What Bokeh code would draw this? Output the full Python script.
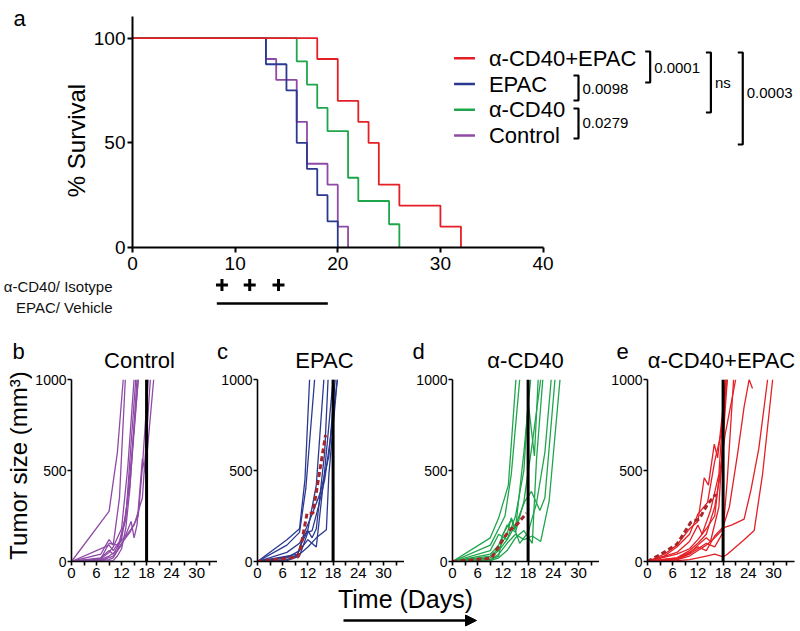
from bokeh.plotting import figure
from bokeh.layouts import column, row
from bokeh.models import Range1d, FixedTicker, Span, Arrow, NormalHead
from bokeh.core.properties import value
from bokeh.embed import file_html
from bokeh.resources import INLINE

FONT = "Liberation Sans"

# ---------------- data ----------------
group_names = ["α-CD40+EPAC", "EPAC", "α-CD40", "Control"]
group_colors = ["#e41f26", "#2b3990", "#1fa54b", "#8e4aa6"]
mean_color = "#a8262b"

surv_days_combo = [0, 18, 20, 22, 23, 24, 26, 30, 32]
surv_pct_combo = [100, 90, 70, 60, 50, 30, 20, 10, 0]
surv_days_epac = [0, 13, 15, 16, 17, 18, 19, 20]
surv_pct_epac = [100, 87.5, 75, 50, 37.5, 25, 12.5, 0]
surv_days_cd40 = [0, 16, 17, 18, 19, 21, 22, 25, 26]
surv_pct_cd40 = [100, 88.9, 77.8, 66.7, 55.6, 33.3, 22.2, 11.1, 0]
surv_days_ctrl = [0, 13, 14, 16, 17, 19, 20, 21]
surv_pct_ctrl = [100, 90, 80, 60, 40, 30, 10, 0]

p_value_labels = ["0.0001", "0.0098", "0.0279", "ns", "0.0003"]
surv_ticks_x = [0, 10, 20, 30, 40]
surv_ticks_y = [0, 50, 100]

schedule_labels = ["α-CD40/ Isotype", "EPAC/ Vehicle"]
dose_days = [8.8, 11.5, 14.3]
epac_days = [8.3, 19.1]

panel_letters = ["a", "b", "c", "d", "e"]
panel_titles = ["Control", "EPAC", "α-CD40", "α-CD40+EPAC"]
tumor_ticks_x = [0, 3, 6, 9, 12, 15, 18, 21, 24, 27, 30, 33]
tumor_labeled_x = [0, 6, 12, 18, 24, 30]
tumor_ticks_y = [0, 500, 1000]
cutoff_day = 18

ctrl_days = [
    [0, 9, 11, 12.4],
    [0, 7, 9, 10, 11.5, 12.9],
    [0, 7, 9, 10, 12, 13.5, 15],
    [0, 7, 9, 11, 13, 14, 15.4],
    [0, 7, 9, 10, 12, 14, 16],
    [0, 7, 10, 12, 14.3, 15, 15.7, 17, 17.7, 19.7],
    [0, 9, 10, 11, 12, 14, 16, 17, 18.4],
    [0, 7, 9, 11, 13, 15, 17, 18.9],
    [0, 9, 10, 11.5, 13, 14.5, 16],
    [0, 10, 11, 12, 13, 14, 15.7],
]
ctrl_vols = [
    [0, 275, 600, 1000],
    [0, 40, 120, 90, 350, 1000],
    [0, 15, 50, 80, 180, 520, 1000],
    [0, 10, 30, 60, 230, 560, 1000],
    [0, 20, 60, 40, 120, 420, 1000],
    [0, 5, 30, 90, 220, 130, 200, 565, 485, 1000],
    [0, 10, 20, 60, 100, 160, 250, 520, 1000],
    [0, 15, 100, 90, 140, 200, 350, 1000],
    [0, 90, 60, 110, 250, 600, 1000],
    [0, 5, 30, 70, 180, 400, 1000],
]

epac_days_t = [
    [0, 7, 10, 11.3, 12.4],
    [0, 7, 10, 11.5, 13.6],
    [0, 7, 10, 12, 14, 15.8],
    [0, 7, 9.5, 10.5, 12, 13, 14, 16, 16.8],
    [0, 7, 10, 12, 14, 16, 18],
    [0, 7, 10, 12, 14, 16.4, 17, 19],
    [0, 7, 10, 12, 13, 14.5, 16, 17.5, 19],
    [0, 7, 9.5, 11, 13, 15, 17, 18.5],
]
epac_vols = [
    [0, 120, 180, 450, 1000],
    [0, 90, 160, 400, 1000],
    [0, 50, 100, 175, 420, 1000],
    [0, 30, 40, 100, 170, 130, 180, 600, 1000],
    [0, 20, 60, 120, 80, 500, 1000],
    [0, 10, 40, 80, 130, 175, 480, 1000],
    [0, 5, 30, 160, 170, 300, 450, 700, 1000],
    [0, 25, 30, 150, 260, 380, 580, 1000],
]
epac_mean_days = [0, 9.6, 10.3, 11.8, 13.2, 16.2]
epac_mean_vols = [0, 24, 80, 265, 265, 695]

cd40_days = [
    [0, 9, 11, 13.3, 15.1],
    [0, 9, 11, 12.5, 14, 16],
    [0, 9, 11, 13, 15, 17, 18, 19.5, 20.4],
    [0, 9, 11, 13, 15, 17, 19, 21],
    [0, 9, 11, 13, 15, 17.2, 18.8, 20.8, 22, 24.4],
    [0, 9, 11, 13, 15, 17, 19, 21, 23, 25.6],
    [0, 9, 11, 13, 14, 15, 17, 18.6],
    [0, 9, 11, 13, 15, 17, 19, 20, 21.5],
    [0, 9, 11, 12, 14, 16, 18, 20, 22, 23.5],
]
cd40_vols = [
    [0, 130, 240, 420, 1000],
    [0, 90, 180, 250, 480, 1000],
    [0, 60, 150, 120, 250, 500, 880, 580, 1000],
    [0, 40, 90, 200, 160, 330, 650, 1000],
    [0, 20, 60, 120, 200, 330, 385, 280, 350, 1000],
    [0, 10, 40, 100, 150, 120, 140, 110, 330, 1000],
    [0, 30, 70, 150, 240, 180, 600, 1000],
    [0, 5, 20, 60, 130, 170, 100, 560, 1000],
    [0, 10, 30, 150, 230, 100, 160, 320, 600, 1000],
]
cd40_mean_days = [0, 9.3, 11.7, 13.3, 15.6, 17.6]
cd40_mean_vols = [0, 18, 110, 165, 210, 265]

combo_days = [
    [0, 4, 7, 10, 12, 13.5, 14.5, 15.9, 16.7, 18.7],
    [0, 4, 7, 10, 12, 14.3, 16, 17.5, 19],
    [0, 7, 10, 12, 14, 16, 17, 18.5, 21],
    [0, 7, 10, 12, 14, 16, 18, 19.5, 21.5, 23, 24.2, 25],
    [0, 7, 10, 12, 14, 16, 18.3, 20, 23, 24.6, 26.5, 28.6],
    [0, 7, 10, 12, 14, 16, 18, 19, 21, 23, 25.4, 27.4, 29.8],
    [0, 7, 10, 12, 14, 16, 17.5, 19],
    [0, 7, 10, 12, 14, 16, 18, 19, 20.5],
    [0, 7, 10, 12, 14, 15, 17, 18.7],
    [0, 7, 10, 12, 13, 15, 17, 18.5],
]
combo_vols = [
    [0, 40, 90, 180, 220, 460, 420, 645, 570, 1000],
    [0, 30, 80, 150, 260, 325, 550, 700, 1000],
    [0, 40, 70, 120, 180, 250, 450, 700, 1000],
    [0, 20, 50, 80, 60, 140, 190, 300, 600, 850, 1000, 950],
    [0, 10, 30, 60, 90, 130, 187, 200, 233, 390, 620, 1000],
    [0, 5, 10, 20, 30, 40, 25, 40, 80, 120, 170, 480, 1000],
    [0, 20, 60, 100, 150, 300, 500, 1000],
    [0, 10, 40, 70, 100, 80, 160, 450, 1000],
    [0, 15, 45, 90, 130, 110, 300, 1000],
    [0, 50, 110, 200, 150, 280, 480, 1000],
]
combo_mean_days = [0, 3.2, 7, 10.3, 12.3, 14.3, 16.3]
combo_mean_vols = [0, 40, 95, 215, 233, 315, 370]

# ---------------- layout (page pixels from the top-left corner) ----------------
W = 800


def clean(p):
    p.outline_line_color = None
    p.grid.visible = False
    p.background_fill_color = "white"
    p.border_fill_color = "white"


def strip(width, height):
    """A plain drawing area (no axes) whose data units are pixels."""
    s = figure(width=width, height=height, x_range=Range1d(0, width), y_range=Range1d(0, height),
               output_backend="svg", toolbar_location=None, x_axis_location=None, y_axis_location=None,
               min_border_left=0, min_border_right=0, min_border_top=0, min_border_bottom=0,
               frame_align=False)
    clean(s)
    return s


def put_text(fig, xs, ys, texts, size, angle=0, align="center", style="normal"):
    fig.text(x=xs, y=ys, text=texts, angle=angle, text_font=value(FONT), text_font_size=size,
             text_font_style=style, text_color="black", text_align=align, text_baseline="middle")


def style_axis(ax, fs, lw=2, tick_out=5, standoff=3):
    ax.axis_line_width = lw
    ax.axis_line_color = "black"
    ax.major_tick_line_width = lw
    ax.major_tick_line_color = "black"
    ax.major_tick_in = 0
    ax.major_tick_out = tick_out
    ax.minor_tick_line_color = None
    ax.major_label_text_font = FONT
    ax.major_label_text_font_size = fs
    ax.major_label_text_color = "black"
    ax.major_label_standoff = standoff


# ---------------- row 1: panel a ----------------
H1 = 277
A_STRIP_W = 90
TOP_L, TOP_T, TOP_B = 129, 16, 247
TOP_FW = W - TOP_L
TOP_XMAX = TOP_FW / 10.31
TOP_YMAX = 110.3


def tx(px):
    return (px - TOP_L) * TOP_XMAX / TOP_FW


def ty(py):
    return (TOP_B - py) * TOP_YMAX / (TOP_B - TOP_T)


a_strip = strip(A_STRIP_W, H1)
put_text(a_strip, [19], [H1 - 18], [panel_letters[0]], "22px")
put_text(a_strip, [76], [H1 - 140], ["% Survival"], "24px", angle=1.5707963)

top = figure(width=W - A_STRIP_W, height=H1, x_range=Range1d(0, TOP_XMAX), y_range=Range1d(0, TOP_YMAX),
             output_backend="svg", toolbar_location=None, frame_align=False,
             min_border_left=TOP_L - A_STRIP_W, min_border_right=0, min_border_top=TOP_T,
             min_border_bottom=H1 - TOP_B)
clean(top)
style_axis(top.xaxis[0], "19px", standoff=4)
style_axis(top.yaxis[0], "19px", standoff=2)
top.xaxis[0].ticker = FixedTicker(ticks=surv_ticks_x)
top.xaxis[0].bounds = (0, 40)
top.yaxis[0].ticker = FixedTicker(ticks=surv_ticks_y)

series = [(surv_days_ctrl, surv_pct_ctrl, group_colors[3]),
          (surv_days_epac, surv_pct_epac, group_colors[1]),
          (surv_days_cd40, surv_pct_cd40, group_colors[2]),
          (surv_days_combo, surv_pct_combo, group_colors[0])]
for d, s, c in series:
    top.step(d, s, mode="after", line_color=c, line_width=1.8)

# legend
leg_y = [ty(57.7 + i * 25.8) for i in range(4)]
top.segment(x0=[tx(452)] * 4, y0=leg_y, x1=[tx(473)] * 4, y1=leg_y,
            line_color=group_colors, line_width=2.5)
top.text(x=[tx(487)] * 4, y=leg_y, text=group_names, text_font=value(FONT),
         text_font_size="22px", text_color="black", text_align="left", text_baseline="middle")

# significance brackets: (x, top, bottom, text_y)
brackets = [(649, 51, 82, 67), (577, 75, 100, 88), (577, 108, 138, 122),
            (710, 52, 112, 82), (742, 52, 144, 92)]
bxs, bys = [], []
for bx_, b0, b1, _ in brackets:
    bxs.append([tx(bx_ - 5), tx(bx_), tx(bx_), tx(bx_ - 5)])
    bys.append([ty(b0), ty(b0), ty(b1), ty(b1)])
top.multi_line(bxs, bys, line_color="black", line_width=2.2)
top.text(x=[tx(b[0] + 4) for b in brackets], y=[ty(b[3]) for b in brackets],
         text=p_value_labels, text_font=value(FONT), text_font_size="15px",
         text_color="black", text_align="left", text_baseline="middle")

# ---------------- row 2: treatment schedule ----------------
SCH_T, SCH_B = H1, 325
sched = figure(width=W, height=SCH_B - SCH_T, x_range=top.x_range, y_range=Range1d(0, SCH_B - SCH_T),
               output_backend="svg", toolbar_location=None, x_axis_location=None, frame_align=False,
               min_border_left=TOP_L, min_border_right=0, min_border_top=0, min_border_bottom=0)
clean(sched)
ya = sched.yaxis[0]
ya.ticker = FixedTicker(ticks=[SCH_B - 284, SCH_B - 307])
ya.major_label_overrides = {SCH_B - 284: schedule_labels[0], SCH_B - 307: schedule_labels[1]}
ya.axis_line_color = None
ya.major_tick_line_color = None
ya.minor_tick_line_color = None
ya.major_label_standoff = 13
ya.major_label_text_font = FONT
ya.major_label_text_font_size = "15px"
ya.major_label_text_color = "#111111"
sched.scatter(dose_days, [SCH_B - 284.5] * 3, marker="cross", size=12, line_width=3, line_color="black")
sched.line(epac_days, [SCH_B - 303] * 2, line_color="black", line_width=2.5)

# ---------------- row 3: panel letters and titles ----------------
HDR_T, HDR_B = SCH_B, 372
header = strip(W, HDR_B - HDR_T)
put_text(header, [18, 222, 418, 622], [HDR_B - 351] * 4, panel_letters[1:], "22px")
put_text(header, [139, 324, 525, 721], [HDR_B - 360] * 4, panel_titles, "22px")

# ---------------- row 4: tumour growth panels ----------------
BOT_B = 585
FW, FH = 147, 182
FTOP = 379
tumor_strip_w = 32
t_strip = strip(tumor_strip_w, BOT_B - HDR_B)
put_text(t_strip, [18], [BOT_B - 465], ["Tumor size (mm³)"], "24px", angle=1.5707963)

# (curves, mean, colour, left border, right border)
panels = [
    (ctrl_days, ctrl_vols, None, None, group_colors[3], 38, 0),
    (epac_days_t, epac_vols, epac_mean_days, epac_mean_vols, group_colors[1], 40, 0),
    (cd40_days, cd40_vols, cd40_mean_days, cd40_mean_vols, group_colors[2], 48, 0),
    (combo_days, combo_vols, combo_mean_days, combo_mean_vols, group_colors[0], 48, 6),
]
figs = [t_strip]
for dd, vv, md, mv, col, lb, rb in panels:
    p = figure(width=lb + FW + rb, height=BOT_B - HDR_B, x_range=Range1d(0, 35), y_range=Range1d(0, 1000),
               output_backend="svg", toolbar_location=None, frame_align=False,
               min_border_left=lb, min_border_right=rb, min_border_top=FTOP - HDR_B,
               min_border_bottom=BOT_B - FTOP - FH)
    clean(p)
    style_axis(p.xaxis[0], "15px", lw=1.6, tick_out=4, standoff=2)
    style_axis(p.yaxis[0], "14px", lw=1.6, tick_out=4, standoff=1)
    p.xaxis[0].ticker = FixedTicker(ticks=tumor_ticks_x)
    p.xaxis[0].major_label_overrides = {t: "" for t in tumor_ticks_x if t not in tumor_labeled_x}
    p.yaxis[0].ticker = FixedTicker(ticks=tumor_ticks_y)

    p.multi_line(dd, vv, line_color=col, line_width=1.3)
    if md is not None:
        p.line(md, mv, line_color=mean_color, line_width=3, line_dash="5 3")
    p.add_layout(Span(location=cutoff_day, dimension="height", line_color="black", line_width=3))
    figs.append(p)

# ---------------- row 5: shared x label with arrow ----------------
TIME_B = 631
time_strip = strip(W, TIME_B - BOT_B)
put_text(time_strip, [405], [TIME_B - 598], ["Time (Days)"], "25px")
time_strip.add_layout(Arrow(end=NormalHead(size=11, fill_color="black", line_color="black"),
                            x_start=343, y_start=TIME_B - 620, x_end=476, y_end=TIME_B - 620,
                            line_color="black", line_width=2.5))

layout = column(row(a_strip, top, spacing=0), sched, header, row(*figs, spacing=0), time_strip, spacing=0)
open("out.html", "w").write(file_html(layout, INLINE))
